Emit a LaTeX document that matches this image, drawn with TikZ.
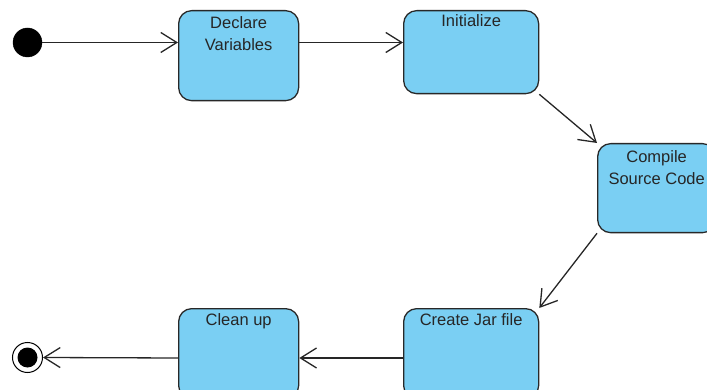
\documentclass[tikz,border=0pt]{standalone}
\usepackage{fontspec}
\setmainfont{Liberation Sans}
\usetikzlibrary{arrows.meta,calc}
\definecolor{statefill}{RGB}{122,207,243}
\definecolor{stateline}{RGB}{40,40,40}
\tikzset{
  statebox/.style={draw=stateline, line width=1.3pt, fill=statefill, rounded corners=13pt, inner sep=0pt, anchor=north west},
  statetext/.style={anchor=north, inner sep=0pt, align=center, text=black!85, font=\fontsize{16.5}{22}\selectfont},
  flow/.style={draw=black!85, line width=1.3pt, -{Straight Barb[length=16pt,width=20pt,line width=1.3pt]}},
}
\begin{document}
\begin{tikzpicture}[x=1pt,y=-1pt]
\useasboundingbox (0,0) rectangle (707,390);
\clip (0,0) rectangle (707,390);
% start and end
\node (start) [circle, fill=black, draw=black, minimum size=29pt, inner sep=0pt] at (27.5,42.5) {};
\node (finalouter) [circle, fill=white, draw=black, line width=1pt, minimum size=30pt, inner sep=0pt] at (27.5,357.5) {};
\node (final) [circle, fill=black, minimum size=20pt, inner sep=0pt] at (27.5,357.5) {};
% states
\node (declare) [statebox, minimum width=120pt, minimum height=90pt] at (178,10) {};
\node (init) [statebox, minimum width=135pt, minimum height=83pt] at (403,10) {};
\node (compile) [statebox, minimum width=118pt, minimum height=89pt] at (597,143) {};
\node (jar) [statebox, minimum width=135pt, minimum height=90pt] at (403,308) {};
\node (clean) [statebox, minimum width=120pt, minimum height=90pt] at (178,308) {};
% texts
\node (declareT) [statetext] at ($(declare.north)+(0,6)$) {Declare\\Variables};
\node (initT) [statetext] at ($(init.north)+(0,4)$) {Initialize};
\node (compileT) [statetext] at ($(compile.north)+(0,7)$) {Compile\\Source Code};
\node (jarT) [statetext] at ($(jar.north)+(0,5)$) {Create Jar file};
\node (cleanT) [statetext] at ($(clean.north)+(0,5)$) {Clean up};
% flows
\draw[flow] (start.east) -- (declare.west |- start.east);
\draw[flow] (declare.east |- start.east) -- (init.west |- start.east);
\draw[flow] (init.south east) -- (compile.north west);
\draw[flow] (compile.south west) -- (jar.north east);
\coordinate (bottomline) at (0,358);
\draw[flow] (jar.west |- bottomline) -- (clean.east |- bottomline);
\draw[flow] (clean.west |- bottomline) -- (finalouter.east);
\end{tikzpicture}
\end{document}
